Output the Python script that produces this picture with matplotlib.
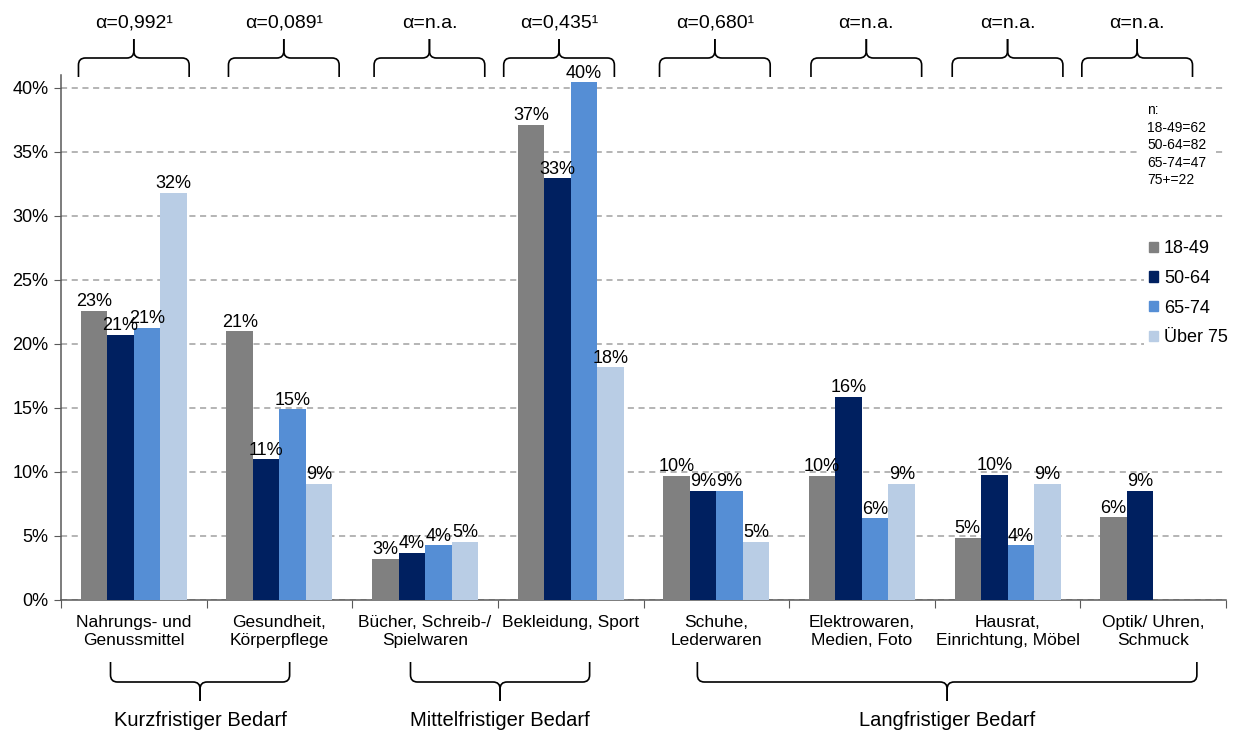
import matplotlib
matplotlib.use("Agg")
import matplotlib.pyplot as plt
import numpy as np
from matplotlib.path import Path
from matplotlib.patches import PathPatch, Patch
from matplotlib.transforms import IdentityTransform

plt.rcParams['font.family'] = ['Liberation Sans', 'DejaVu Sans']

categories = ["Nahrungs- und\nGenussmittel", "Gesundheit,\nKörperpflege",
              "Bücher, Schreib-/\nSpielwaren", "Bekleidung, Sport",
              "Schuhe,\nLederwaren", "Elektrowaren,\nMedien, Foto",
              "Hausrat,\nEinrichtung, Möbel", "Optik/ Uhren,\nSchmuck"]
age_groups = ["18-49", "50-64", "65-74", "Über 75"]
share_18_49 = [22.58, 20.97, 3.23, 37.10, 9.68, 9.68, 4.84, 6.45]
share_50_64 = [20.73, 10.98, 3.66, 32.93, 8.54, 15.85, 9.76, 8.54]
share_65_74 = [21.28, 14.89, 4.26, 40.43, 8.51, 6.38, 4.26, np.nan]
share_75_plus = [31.82, 9.09, 4.55, 18.18, 4.55, 9.09, 9.09, np.nan]
alpha_labels = ["α=0,992¹", "α=0,089¹", "α=n.a.", "α=0,435¹",
                "α=0,680¹", "α=n.a.", "α=n.a.", "α=n.a."]
sample_sizes = ["18-49=62", "50-64=82", "65-74=47", "75+=22"]
demand_groups = ["Kurzfristiger Bedarf", "Mittelfristiger Bedarf", "Langfristiger Bedarf"]

colors = ["#808080", "#002060", "#558ED5", "#B9CDE5"]
series = [share_18_49, share_50_64, share_65_74, share_75_plus]

W, H = 1234, 733
fig = plt.figure(figsize=(W / 100, H / 100), dpi=100)
ax = fig.add_axes([61 / W, (H - 600) / H, 1165 / W, 525 / H])

x = np.arange(len(categories))
bw = 0.182
for i, (vals, col, name) in enumerate(zip(series, colors, age_groups)):
    vals = np.array(vals)
    pos = x + (i - 1.5) * bw
    ax.bar(pos, vals, bw, color=col, label=name, zorder=3)
    for px, v in zip(pos, vals):
        if np.isnan(v):
            continue
        ax.annotate(f"{v:.0f}%", (px, v), xytext=(0, 0.5), textcoords="offset points",
                    ha="center", va="bottom", fontsize=13, zorder=4)

ax.set_xlim(-0.5, 7.5)
ax.set_ylim(0, 41)
ax.set_yticks(np.arange(0, 41, 5))
ax.set_yticklabels([f"{t}%" for t in range(0, 41, 5)], fontsize=13)
ax.yaxis.grid(True, color="#A0A0A0", linestyle=(0, (4, 3)), linewidth=1.1, zorder=0)
ax.set_axisbelow(True)

ax.set_xticks(np.arange(-0.5, 8, 1))
ax.set_xticklabels([])
ax.set_xticks(x, minor=True)
ax.set_xticklabels(categories, minor=True, fontsize=12.5, linespacing=1.25)
ax.tick_params(axis="x", which="minor", length=0, pad=11)
ax.tick_params(axis="x", which="major", length=6, direction="out", color="#595959")
ax.tick_params(axis="y", length=5, direction="out", color="#595959", pad=4)

for s in ["top", "right"]:
    ax.spines[s].set_visible(False)
for s in ["left", "bottom"]:
    ax.spines[s].set_color("#595959")
    ax.spines[s].set_linewidth(1.1)

# legend and sample sizes sit on white boxes over the grid
handles = [Patch(color=c, label=n) for c, n in zip(colors, age_groups)]
leg = fig.legend(handles=handles, loc="upper left", bbox_to_anchor=(1144 / W, 1 - 235 / H),
                 fontsize=13, frameon=True, handlelength=0.5, handleheight=0.5,
                 handletextpad=0.3, labelspacing=0.7, borderpad=0.3, borderaxespad=0)
leg.get_frame().set_facecolor("white")
leg.get_frame().set_edgecolor("none")
leg.get_frame().set_alpha(1)

fig.text(1147 / W, 1 - 103 / H, "n:\n" + "\n".join(sample_sizes), fontsize=10,
         va="top", ha="left", linespacing=1.32,
         bbox=dict(facecolor="white", edgecolor="none", pad=6))


def draw_brace(x0, x1, y_end, y_mid, y_tip, r=7):
    xc = (x0 + x1) / 2
    d = 1 if y_tip > y_mid else -1
    for xe, sgn in ((x0, 1), (x1, -1)):
        verts = [(xe, y_end), (xe, y_mid - d * r), (xe, y_mid), (xe + sgn * r, y_mid),
                 (xc - sgn * r, y_mid), (xc, y_mid), (xc, y_mid + d * r), (xc, y_tip)]
        codes = [Path.MOVETO, Path.LINETO, Path.CURVE3, Path.CURVE3,
                 Path.LINETO, Path.CURVE3, Path.CURVE3, Path.LINETO]
        fig.add_artist(PathPatch(Path(verts, codes), fill=False, lw=1.2, color="black",
                                 transform=IdentityTransform()))


def to_px(xd):
    return ax.transData.transform((xd, 0))[0]


# braces above each category with the test statistic
top_shift = [0, 0.03, 0.03, -0.08, -0.01, 0.03, 0, -0.11]
for i, lab in enumerate(alpha_labels):
    c = i + top_shift[i]
    draw_brace(to_px(c - 0.38), to_px(c + 0.38), H - 77, H - 58, H - 39)
    fig.text(to_px(c) / W, 1 - 23 / H, lab, ha="center", va="center", fontsize=14)

# braces grouping the categories by demand horizon
bottom_spans = [(-0.16, 1.07), (1.90, 3.13), (3.87, 7.30)]
for (a, b), lab in zip(bottom_spans, demand_groups):
    draw_brace(to_px(a), to_px(b), H - 662, H - 682, H - 701)
    fig.text(to_px((a + b) / 2) / W, 1 - 721 / H, lab, ha="center", va="center", fontsize=14.5)

fig.savefig("out.png", dpi=100)
